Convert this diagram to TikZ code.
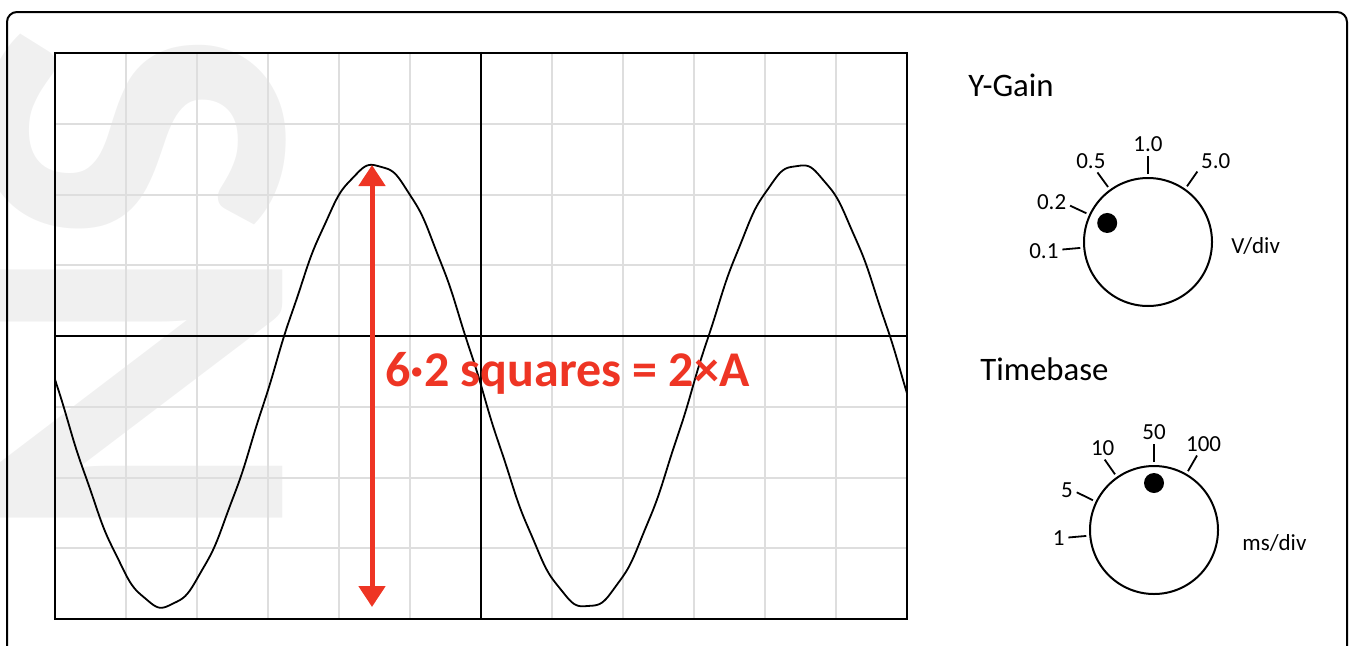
\documentclass[tikz,border=0pt]{standalone}
\usepackage{fontspec}
\setmainfont{Carlito}
\usepackage{xcolor}
\usepackage{tikz}
\usetikzlibrary{arrows.meta, positioning}

\definecolor{penred}{RGB}{238,53,36}

\begin{document}
\begin{tikzpicture}[x=0.5pt, y=0.5pt,
  frame/.style={draw, line width=1pt, rounded corners=5pt},
  screen/.style={rectangle, draw, line width=1.2pt, minimum width=426pt,
    minimum height=283pt, inner sep=0pt},
  gridline/.style={draw=black!13, line width=1pt},
  axis/.style={line width=0.8pt},
  trace/.style={line width=0.9pt, line join=round},
  measure/.style={{Triangle[width=13pt,length=10.5pt]}-{Triangle[width=13pt,length=10.5pt]},
    draw=penred, line width=2.5pt},
  note/.style={font=\fontsize{25}{25}\selectfont\bfseries, text=penred, inner sep=0pt},
  knob/.style={circle, draw, line width=1pt, minimum size=64pt, inner sep=0pt},
  dot/.style={circle, fill, minimum size=10pt, inner sep=0pt},
  tick/.style={line width=0.9pt},
  ticklabel/.style={font=\fontsize{11.5}{12}\selectfont, inner sep=1.5pt},
  title/.style={font=\fontsize{16.4}{18}\selectfont, inner sep=0pt, anchor=west},
  unit/.style={font=\fontsize{11.5}{12}\selectfont, inner sep=0pt},
  watermark/.style={font=\fontsize{230}{230}\selectfont\bfseries, text=black!6,
    inner sep=0pt, rotate=-90, anchor=base west}
]
\useasboundingbox (0,0) rectangle (1349,645);
\clip (0,0) rectangle (1349,645);

% Background
\node[watermark] (logo) at (-15,620) {SN};
\draw[frame] (7,633) rectangle (1347,-20);

% Screen
\foreach \i in {1,...,11}
  \draw[gridline] ({55+71*\i},26) -- ({55+71*\i},592);
\foreach \j in {1,...,7}
  \draw[gridline] (55,{26+70.75*\j}) -- (907,{26+70.75*\j});
\node[screen] (screen) at (481,309) {};
\draw[axis] (screen.north) -- (screen.south);
\draw[axis] (screen.west) -- (screen.east);

% Trace
\draw[trace] plot[domain=55:907, samples=400, smooth]
  (\x, {259 - 221*sin(0.849*(\x-57)) + 1.0*sin(13*\x)});

% Measurement
\coordinate (peak) at (372,480);
\coordinate (trough) at (372,38);
\draw[measure] (trough) -- (peak);
\node[note, anchor=base west] (amp) at (385,259) {6·2 squares = 2×A};

% Y-Gain knob
\node[title] (ytitle) at (968,560) {Y-Gain};
\node[knob] (ygain) at (1148,403) {};
\foreach \a/\t/\p in {185/0.1/5, 155/0.2/350, 126/0.5/300, 90/1.0/270, 55/5.0/210}
  \draw[tick] (ygain.\a) ++(\a:3) -- ++(\a:18) node[ticklabel, anchor=\p] {\t};
\node[dot] (ydot) at ([shift={(155:45)}]ygain.center) {};
\node[unit, right=9pt of ygain, yshift=-2pt] (yunit) {V/div};

% Timebase knob
\node[title] (ttitle) at (980,276) {Timebase};
\node[knob] (tbase) at (1154,115) {};
\foreach \a/\t/\p in {185/1/5, 154/5/350, 125/10/280, 90/50/270, 60/100/240}
  \draw[tick] (tbase.\a) ++(\a:3) -- ++(\a:18) node[ticklabel, anchor=\p] {\t};
\node[dot] (tdot) at ([shift={(90:47)}]tbase.center) {};
\node[unit, right=11.5pt of tbase, yshift=-6.5pt] (tunit) {ms/div};

\end{tikzpicture}
\end{document}
